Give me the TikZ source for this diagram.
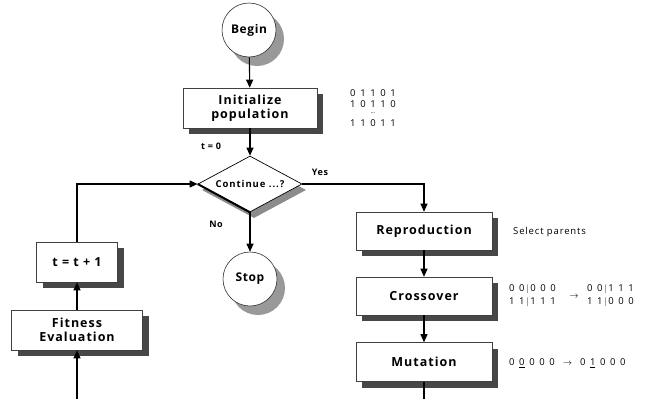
\documentclass[tikz,border=0pt]{standalone}
\usepackage{fontspec}
\setmainfont{Open Sans}
\usetikzlibrary{shapes.geometric,arrows.meta,shadows,backgrounds}
\newcommand\bsp{\hspace{4.6pt}}
\begin{document}
\begin{tikzpicture}[x=1pt,y=-1pt,
  procbox/.style={draw=black!75, line width=0.6pt, fill=white, align=center,
    inner sep=0pt, font=\bfseries\fontsize{12.5}{14.5}\selectfont\addfontfeature{LetterSpace=8},
    drop shadow={shadow xshift=6pt, shadow yshift=-6pt, fill=black!72, opacity=1}},
  terminal/.style={circle, draw=black!80, line width=0.6pt, fill=white, minimum size=54pt,
    inner sep=0pt, font=\bfseries\fontsize{12}{13}\selectfont\addfontfeature{LetterSpace=5}},
  diamondshape/.style={diamond, aspect=1.86, inner sep=0pt, minimum width=104pt, minimum height=56pt},
  decision/.style={diamondshape, draw=black, line width=0.7pt, fill=white,
    font=\bfseries\fontsize{9.5}{11}\selectfont\addfontfeature{LetterSpace=10}},
  crescent/.style={fill=black!40},
  diamondshade/.style={diamondshape, fill=black!45},
  flow/.style={-{Triangle[length=8pt,width=7pt]}, line width=1.1pt},
  note/.style={font=\bfseries\fontsize{9}{10}\selectfont\addfontfeature{LetterSpace=6}, inner sep=0pt},
  bits/.style={font=\fontsize{9.5}{10.5}\selectfont, inner sep=0pt, align=center}
]
\useasboundingbox (0,0) rectangle (652,399);

% shadow of the decision, drawn first so the diamond covers it
\node[diamondshade] (contshade) at (254,190) {};

% terminals
\node[terminal] (begin) at (249,30) {Begin};
\node[terminal] (stop) at (250,279) {Stop};

% main column
\node[procbox, minimum width=134pt, minimum height=40pt] (init) at (250,108) {Initialize\\population};
\node[decision] (cont) at (250,184) {Continue ...?};
\draw[line width=2pt] (cont.west) -- (cont.south);

% genetic operators
\node[procbox, minimum width=136pt, minimum height=38pt] (repro) at (424,231) {Reproduction};
\node[procbox, minimum width=136pt, minimum height=38pt] (cross) at (424,296) {Crossover};
\node[procbox, minimum width=136pt, minimum height=39pt] (mut) at (424,362) {Mutation};

% feedback column
\node[procbox, minimum width=81pt, minimum height=40pt] (tinc) at (77,262) {t = t + 1};
\node[procbox, minimum width=131pt, minimum height=40pt] (fit) at (77,330) {Fitness\\Evaluation};

% crescent shadows of the terminals
\begin{scope}[on background layer]
  \fill[crescent] ([shift={(8,9)}]begin.center) circle (27);
  \fill[crescent] ([shift={(8,9)}]stop.center) circle (27);
\end{scope}

\coordinate (mutout) at (424,399);
\coordinate (fitin) at (77,399);

% connectors
\draw[flow] (begin) -- (init);
\draw[flow] (init) -- (cont.north);
\draw[flow] (cont.east) -| (repro.north);
\draw[flow] (cont.south) -- (stop);
\draw[flow] (repro) -- (cross);
\draw[flow] (cross) -- (mut);
\draw[line width=1.1pt] (mut.south) -- (mutout);
\draw[flow] (fitin) -- (fit.south);
\draw[flow] (fit) -- (tinc);
\draw[flow] (tinc.north) |- (cont.west);

% labels
\node[note] (t0) at (211,146) {t = 0};
\node[note] (yes) at (320,172) {Yes};
\node[note] (no) at (216,224) {No};

% example strings
\node[bits] (pop1) at (373,93) {0\bsp1\bsp1\bsp0\bsp1};
\node[bits] (pop2) at (373,104) {1\bsp0\bsp1\bsp1\bsp0};
\node[bits, font=\fontsize{6}{6}\selectfont] (popd) at (373,113.5) {...};
\node[bits] (pop3) at (373,123) {1\bsp1\bsp0\bsp1\bsp1};
\node[note, anchor=west, font=\fontsize{9.5}{11}\selectfont\addfontfeature{LetterSpace=9}] (sel) at (513,232) {Select parents};
\node[bits, anchor=west] (xa1) at (509,289) {0\bsp0\,$|$\,0\bsp0\bsp0};
\node[bits, anchor=west] (xa2) at (509,302) {1\bsp1\,$|$\,1\bsp1\bsp1};
\node[bits] (xarr) at (574,297) {$\rightarrow$};
\node[bits, anchor=west] (xb1) at (587,289) {0\bsp0\,$|$\,1\bsp1\bsp1};
\node[bits, anchor=west] (xb2) at (587,302) {1\bsp1\,$|$\,0\bsp0\bsp0};
\node[bits, anchor=west] (mu) at (509,363) {0\bsp\underline{0}\bsp0\bsp0\bsp0\hspace{8pt}$\rightarrow$\hspace{8pt}0\bsp\underline{1}\bsp0\bsp0\bsp0};
\end{tikzpicture}
\end{document}
